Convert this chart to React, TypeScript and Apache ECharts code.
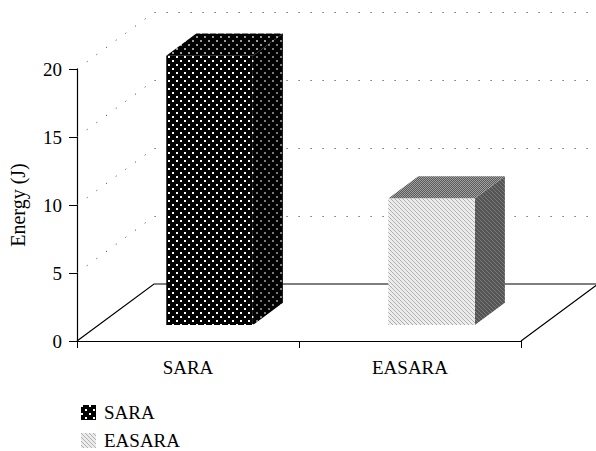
import React, { useEffect, useRef } from "react";
import * as echarts from "echarts";

const categories = ["SARA", "EASARA"];
const values = [19.8, 9.3];
const yTicks = [0, 5, 10, 15, 20];
const yAxisName = "Energy (J)";

// 3D projection constants (styles/layout)
const DEPTH_X = 77;
const DEPTH_Y = -57;
const FRONT_FRAC = 0.28;
const BAR_DEPTH = 0.39;
const BAR_WIDTH_RATIO = 0.39;
const FONT = "Liberation Serif";
const FS = 19;

function makeTile(w: number, h: number, bg: string, draw: (ctx: CanvasRenderingContext2D) => void) {
  const c = document.createElement("canvas");
  c.width = w;
  c.height = h;
  const ctx = c.getContext("2d") as CanvasRenderingContext2D;
  ctx.fillStyle = bg;
  ctx.fillRect(0, 0, w, h);
  draw(ctx);
  return c;
}
function pat(c: HTMLCanvasElement): any {
  return { image: c, repeat: "repeat", imageWidth: c.width, imageHeight: c.height };
}
function dots(bg: string, fg: string) {
  return makeTile(8, 8, bg, (ctx) => {
    ctx.fillStyle = fg;
    ctx.fillRect(0, 0, 2, 2);
    ctx.fillRect(4, 4, 2, 2);
  });
}
function hatch(bg: string, fg: string) {
  return makeTile(4, 4, bg, (ctx) => {
    ctx.fillStyle = fg;
    for (let i = 0; i < 4; i++) ctx.fillRect(i, i, 1, 1);
  });
}
function checker(a: string, b: string) {
  return makeTile(2, 2, a, (ctx) => {
    ctx.fillStyle = b;
    ctx.fillRect(0, 0, 1, 1);
    ctx.fillRect(1, 1, 1, 1);
  });
}

export default function App() {
  const ref = useRef<HTMLDivElement>(null);
  useEffect(() => {
    if (!ref.current) return;
    const chart = echarts.init(ref.current, undefined, { renderer: "svg" });

    const faces = [
      {
        front: pat(dots("#000000", "#ffffff")),
        top: pat(dots("#000000", "#9a9a9a")),
        right: pat(dots("#000000", "#7a7a7a")),
      },
      {
        front: pat(hatch("#ececec", "#b0b0b0")),
        top: pat(checker("#5a5a5a", "#a0a0a0")),
        right: pat(hatch("#555555", "#7a7a7a")),
      },
    ];

    const barSeries = categories.map((name, i) => ({
      type: "custom",
      name,
      z: 3,
      itemStyle: { color: faces[i].front },
      data: [[i, values[i]]],
      renderItem: (params: any, api: any) => {
        const cat = api.value(0);
        const v = api.value(1);
        const p0 = api.coord([cat, 0]);
        const p1 = api.coord([cat, v]);
        const band = api.size([1, 0])[0];
        const w = band * BAR_WIDTH_RATIO;
        const ox = DEPTH_X * FRONT_FRAC;
        const oy = DEPTH_Y * FRONT_FRAC;
        const dx = DEPTH_X * BAR_DEPTH;
        const dy = DEPTH_Y * BAR_DEPTH;
        const xl = p0[0] - w / 2 + ox;
        const xr = xl + w;
        const yb = p0[1] + oy;
        const yt = p1[1] + oy;
        const f = faces[i];
        return {
          type: "group",
          children: [
            {
              type: "polygon",
              shape: { points: [[xr, yt], [xr + dx, yt + dy], [xr + dx, yb + dy], [xr, yb]] },
              style: { fill: f.right, stroke: null },
            },
            {
              type: "polygon",
              shape: { points: [[xl, yt], [xl + dx, yt + dy], [xr + dx, yt + dy], [xr, yt]] },
              style: { fill: f.top, stroke: null },
            },
            {
              type: "polygon",
              shape: { points: [[xl, yt], [xr, yt], [xr, yb], [xl, yb]] },
              style: { fill: f.front, stroke: null },
            },
          ],
        };
      },
    }));

    const wallSeries = {
      type: "custom",
      name: "wall",
      z: 1,
      silent: true,
      data: yTicks.map((t) => [0, t]),
      renderItem: (params: any, api: any) => {
        const cs = params.coordSys;
        const t = api.value(1);
        const y = api.coord([0, t])[1];
        const x0 = cs.x;
        const x1 = cs.x + cs.width;
        if (t === 0) {
          return {
            type: "polyline",
            shape: {
              points: [
                [x0, y],
                [x0 + DEPTH_X, y + DEPTH_Y],
                [x1 + DEPTH_X, y + DEPTH_Y],
                [x1, y],
              ],
            },
            style: { stroke: "#000", lineWidth: 1.2, fill: null },
          };
        }
        return {
          type: "polyline",
          shape: {
            points: [
              [x0, y],
              [x0 + DEPTH_X, y + DEPTH_Y + 0.5],
              [x1 + DEPTH_X, y + DEPTH_Y + 0.5],
            ],
          },
          style: { stroke: "#555", lineWidth: 1, lineDash: [1.2, 10.8], fill: null },
        };
      },
    };

    chart.setOption({
      animation: false,
      backgroundColor: "#fff",
      textStyle: { fontFamily: FONT },
      grid: { left: 77, right: 75, top: 69, bottom: 110, containLabel: false },
      legend: {
        orient: "vertical",
        left: 76,
        top: 398,
        height: 60,
        itemWidth: 15,
        itemHeight: 15,
        itemGap: 9,
        icon: "rect",
        data: categories.map((name, i) => ({ name, itemStyle: { color: faces[i].front } })),
        textStyle: { fontFamily: FONT, fontSize: FS, lineHeight: 15, color: "#000", padding: [0, 0, 0, 3] },
      },
      xAxis: {
        type: "category",
        data: categories,
        axisLine: { show: true, lineStyle: { color: "#000", width: 1.2 } },
        axisTick: { show: true, length: 7, lineStyle: { color: "#000" } },
        axisLabel: { color: "#000", fontSize: FS, fontFamily: FONT, margin: 17 },
        splitLine: { show: false },
      },
      yAxis: {
        type: "value",
        min: 0,
        max: 20,
        interval: 5,
        name: yAxisName,
        nameLocation: "middle",
        nameRotate: 90,
        nameGap: 49,
        nameTextStyle: { color: "#000", fontSize: 20, fontFamily: FONT },
        axisLine: { show: true, lineStyle: { color: "#000", width: 1.2 } },
        axisTick: { show: true, length: 8, lineStyle: { color: "#000" } },
        axisLabel: { color: "#000", fontSize: FS, fontFamily: FONT, margin: 15 },
        splitLine: { show: false },
      },
      series: [wallSeries, ...barSeries],
    });
    return () => chart.dispose();
  }, []);
  return <div ref={ref} style={{ width: 596, height: 451, position: "absolute", left: 0, top: 0 }} />;
}
